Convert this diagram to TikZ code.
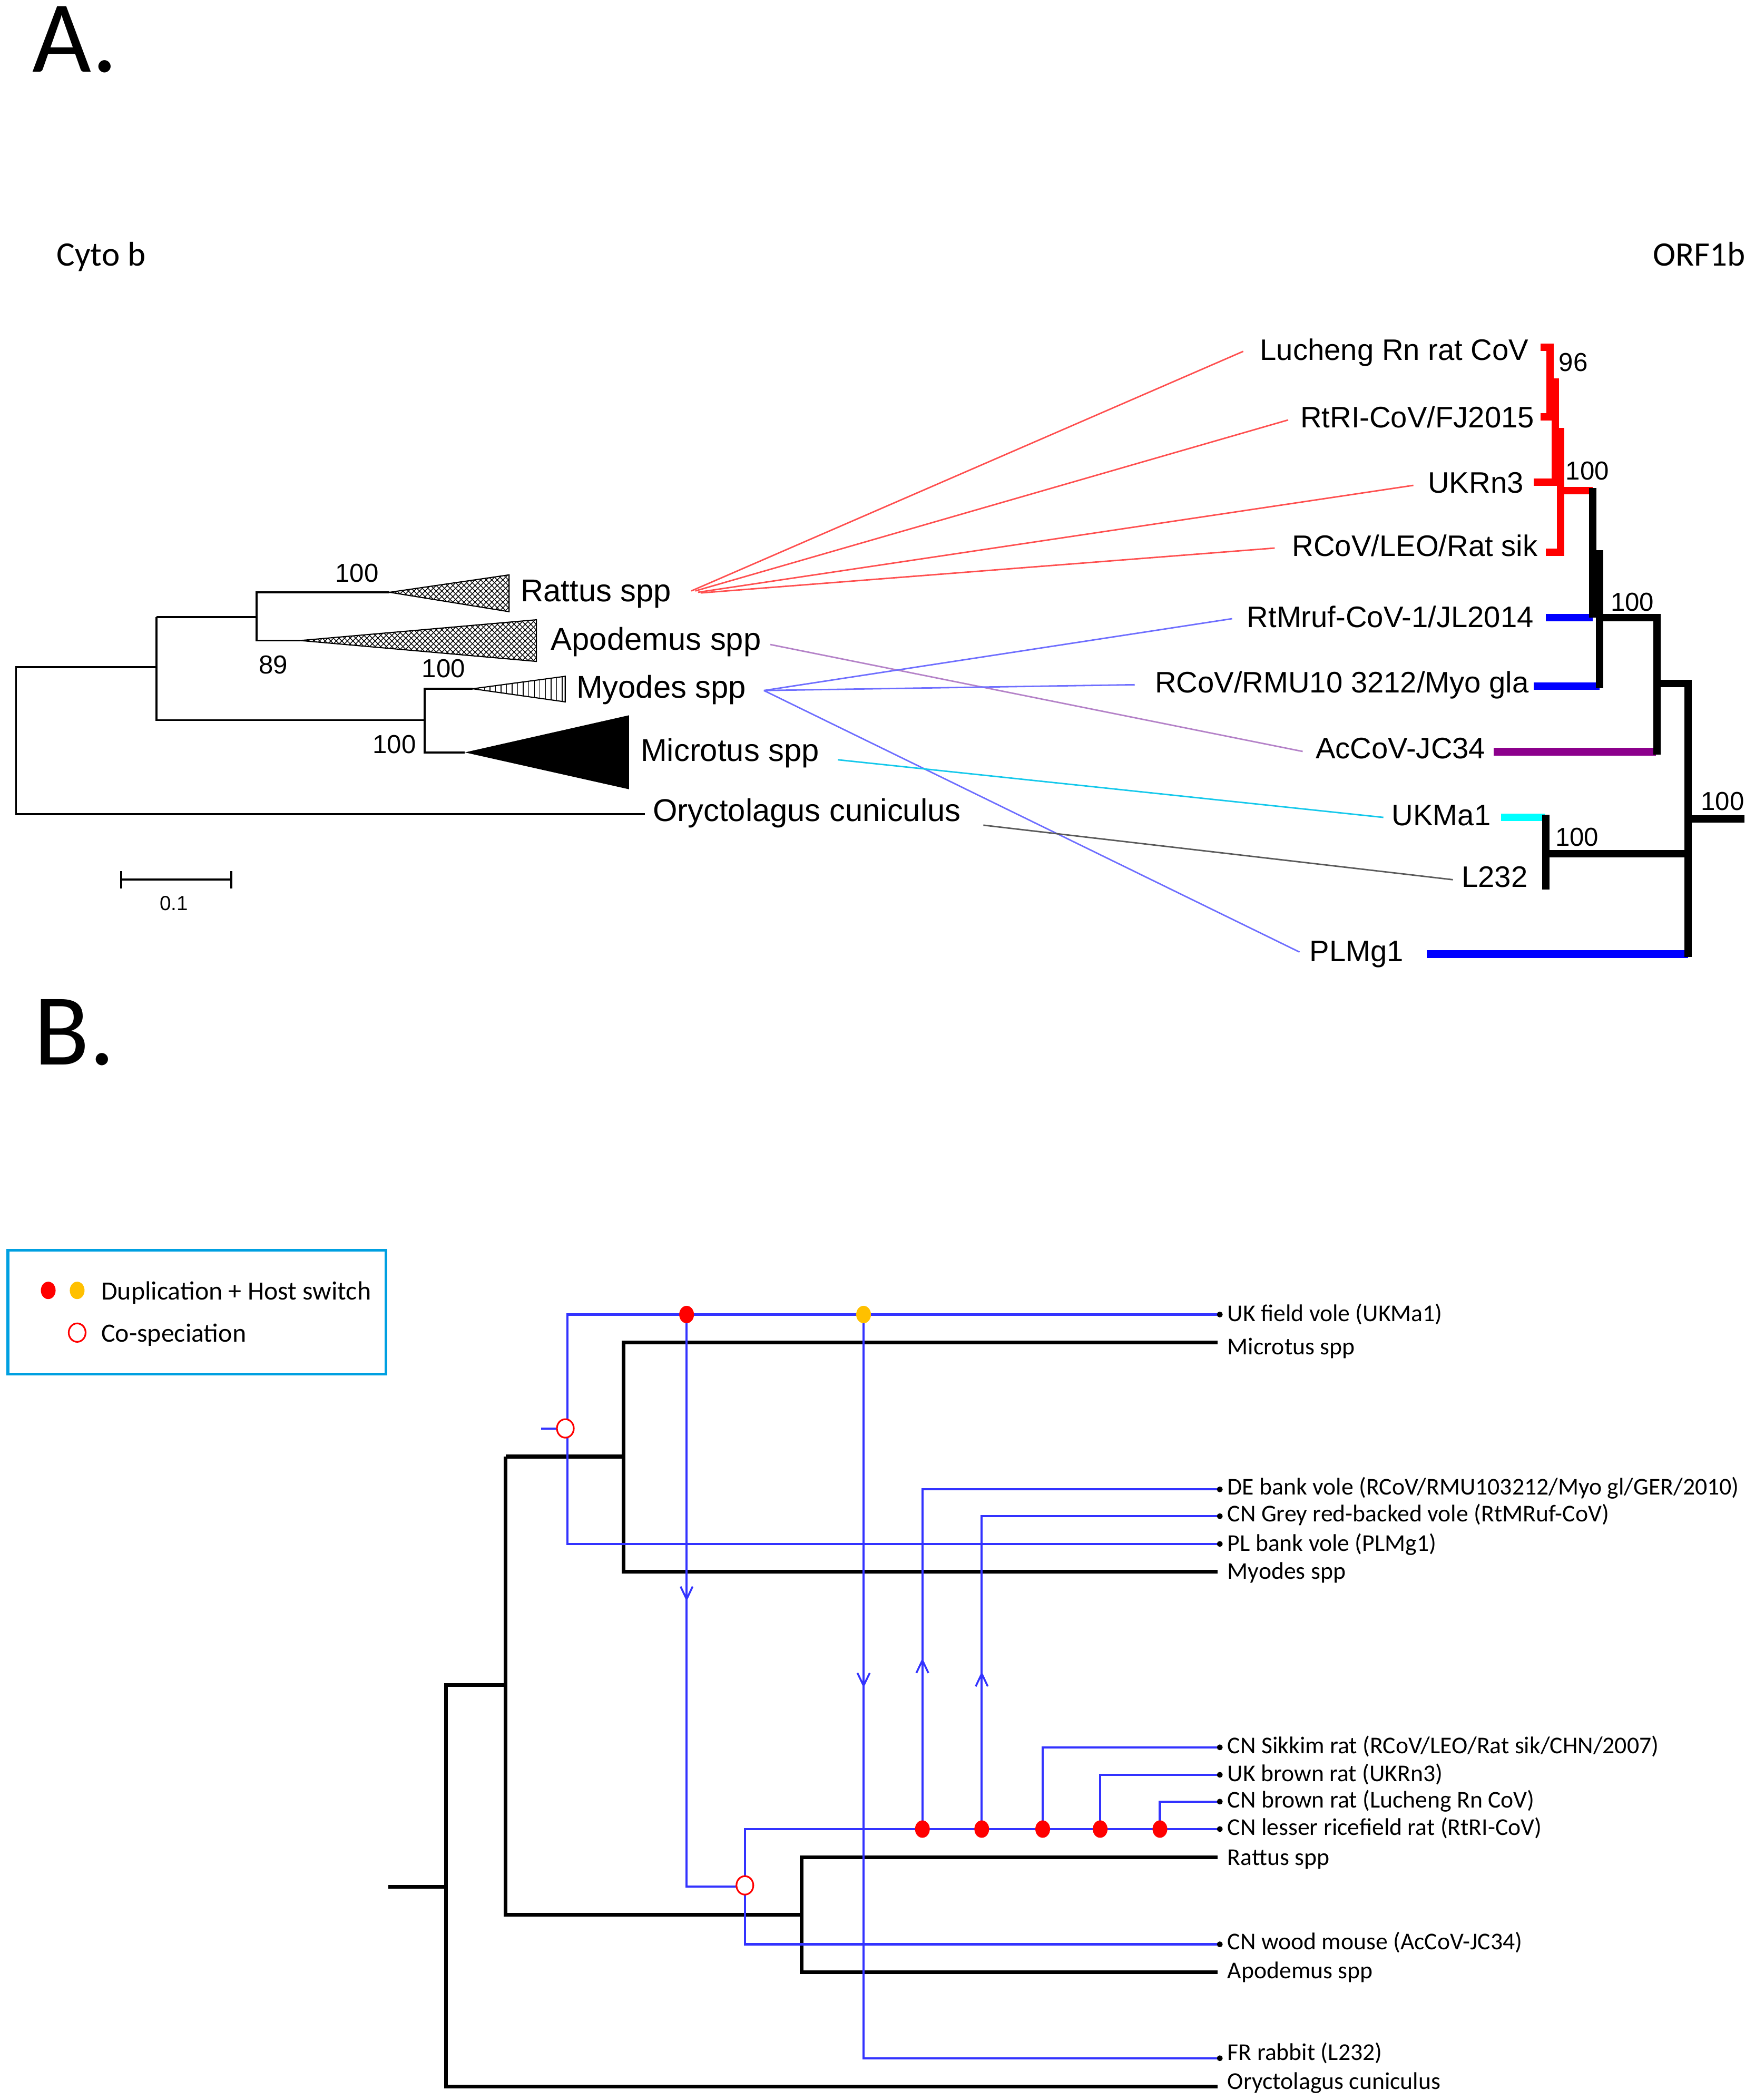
\documentclass[tikz,border=0pt]{standalone}
\usepackage{fontspec}
\setmainfont{Liberation Sans}
\newfontfamily\calfont{Carlito}
\usetikzlibrary{patterns,shapes.geometric}
\definecolor{thinred}{RGB}{255,80,80}
\definecolor{thinpurple}{RGB}{180,130,200}
\definecolor{thinblue}{RGB}{110,110,255}
\definecolor{thincyan}{RGB}{20,200,235}
\definecolor{thingray}{RGB}{90,90,90}
\definecolor{tblue}{RGB}{0,0,255}
\definecolor{tpurple}{RGB}{140,0,140}
\definecolor{tcyan}{RGB}{0,255,255}
\definecolor{tred}{RGB}{255,0,0}
\definecolor{pblue}{RGB}{51,51,255}
\definecolor{dotred}{RGB}{255,0,0}
\definecolor{dotorange}{RGB}{255,192,0}
\definecolor{legendframe}{RGB}{0,160,225}
\begin{document}
\begin{tikzpicture}[x=0.0254275cm, y=-0.0254275cm,
  lab/.style={inner sep=0pt},
  big/.style={lab, font=\calfont\fontsize{55}{58}\selectfont},
  axlab/.style={lab, font=\calfont\fontsize{18.5}{21}\selectfont},
  llab/.style={lab, anchor=base west, font=\fontsize{17}{20}\selectfont},
  rlab/.style={lab, anchor=base east, font=\fontsize{16}{19}\selectfont},
  boot/.style={lab, anchor=base west, font=\fontsize{14}{16}\selectfont},
  blab/.style={lab, anchor=base west, font=\calfont\fontsize{13}{15}\selectfont},
  leglab/.style={lab, anchor=base west, font=\calfont\fontsize{14.2}{16}\selectfont},
  ltree/.style={line width=1.1pt, black},
  otree/.style={line width=4pt, black},
  thin/.style={line width=0.8pt},
  htree/.style={line width=2pt, black},
  pline/.style={line width=1.2pt, pblue},
  dup/.style={ellipse, inner sep=0pt, minimum width=2.8mm, minimum height=3.3mm, draw=none},
  cosp/.style={ellipse, inner sep=0pt, minimum width=3.2mm, minimum height=3.5mm, draw=dotred, line width=0.9pt, fill=white},
  tipdot/.style={circle, inner sep=0pt, minimum size=1.1mm, fill=black},
]
\useasboundingbox (0,0) rectangle (1310,1567.2);

% ---------- Panel letters and axis titles ----------
\node[big, anchor=base west] (A) at (24,53.5) {A.};
\node[big, anchor=base west] (B) at (25,794.5) {B.};
\node[axlab, anchor=base west] (cytob) at (42,198.5) {Cyto b};
\node[axlab, anchor=base east] (orf) at (1303,198.5) {ORF1b};

% ---------- Panel A: Cyto b tree ----------
\draw[ltree] (481.5,607.6) -- (12,607.6) -- (12,498) -- (116.8,498);
\draw[ltree] (116.8,460.5) -- (116.8,537.4) -- (317,537.4);
\draw[ltree] (116.8,460.5) -- (191.6,460.5);
\draw[ltree] (290.8,442) -- (191.6,442) -- (191.6,478) -- (224,478);
\draw[ltree] (352.7,514) -- (317,514) -- (317,561.5) -- (347,561.5);
% collapsed clades
\fill[white] (290.8,442) -- (380,429) -- (380,456.5) -- cycle;
\fill[pattern=north east lines] (290.8,442) -- (380,429) -- (380,456.5) -- cycle;
\fill[pattern=north west lines] (290.8,442) -- (380,429) -- (380,456.5) -- cycle;
\draw[line width=0.6pt] (290.8,442) -- (380,429) -- (380,456.5) -- cycle;
\fill[pattern=crosshatch] (224,478) -- (400.4,462.5) -- (400.4,493.6) -- cycle;
\draw[line width=0.6pt] (224,478) -- (400.4,462.5) -- (400.4,493.6) -- cycle;
\fill[pattern=vertical lines] (352.7,514) -- (421.9,504.7) -- (421.9,523.8) -- cycle;
\draw[line width=0.6pt] (352.7,514) -- (421.9,504.7) -- (421.9,523.8) -- cycle;
\fill[black] (347,561.5) -- (469.5,533.8) -- (469.5,589) -- cycle;
% labels
\node[llab] (rattus) at (388.5,449) {Rattus spp};
\node[llab] (apod) at (411,485) {Apodemus spp};
\node[llab] (myod) at (430,521) {Myodes spp};
\node[llab] (micro) at (478,568) {Microtus spp};
\node[llab] (oryc) at (487,613) {Oryctolagus cuniculus};
\node[boot] (b1) at (250,434.5) {100};
\node[boot] (b2) at (193,502.7) {89};
\node[boot] (b3) at (314.6,505.7) {100};
\node[boot] (b4) at (278,562) {100};
% scale bar
\draw[ltree] (90.6,650) -- (90.6,663) (90.6,656.2) -- (172.6,656.2) (172.6,650) -- (172.6,663);
\node[lab, anchor=base west, font=\fontsize{11}{13}\selectfont] (scl) at (119,679.3) {0.1};

% ---------- Panel A: ORF1b tree ----------
\draw[otree, tred] (1150,259) -- (1157,259) -- (1157,311) -- (1150,311);
\draw[otree, tred] (1157,285) -- (1161,285) -- (1161,360) -- (1145,360);
\draw[otree, tred] (1161,322) -- (1165,322) -- (1165,412) -- (1154,412);
\draw[otree, tred] (1165,366) -- (1189,366);
\draw[otree, tblue] (1154,461) -- (1189,461);
\draw[otree, tblue] (1145,512) -- (1194,512);
\draw[otree, tpurple] (1115,561) -- (1236,561);
\draw[otree, tcyan] (1120.6,610) -- (1153,610);
\draw[otree, tblue] (1065,712) -- (1260,712);
\draw[otree] (1189,364) -- (1189,461);
\draw[otree] (1189,413.5) -- (1194,413.5) -- (1194,513.5);
\draw[otree] (1194,461) -- (1237,461) -- (1237,563);
\draw[otree] (1237,510) -- (1260,510) -- (1260,714);
\draw[otree] (1260,611) -- (1302,611);
\draw[otree] (1260,637) -- (1154,637);
\draw[otree] (1154,608) -- (1154,664);
% labels
\node[rlab] (luch) at (1141.3,268.6) {Lucheng Rn rat CoV};
\node[rlab] (rtri) at (1145.5,319) {RtRI-CoV/FJ2015};
\node[rlab] (ukrn) at (1137.5,368) {UKRn3};
\node[rlab] (leo) at (1148,415) {RCoV/LEO/Rat sik};
\node[rlab] (mruf) at (1145,468) {RtMruf-CoV-1/JL2014};
\node[rlab] (rmu) at (1141.5,517) {RCoV/RMU10 3212/Myo gla};
\node[rlab] (acc) at (1109,566) {AcCoV-JC34};
\node[rlab] (ukma) at (1113,616) {UKMa1};
\node[rlab] (l232) at (1140.5,662) {L232};
\node[rlab] (plmg) at (1048,717.5) {PLMg1};
\node[boot] (o1) at (1163.3,277) {96};
\node[boot] (o2) at (1168.5,358) {100};
\node[boot] (o3) at (1202,456) {100};
\node[boot] (o4) at (1160.7,631.5) {100};
\node[boot] (o5) at (1269.4,604.5) {100};

% ---------- Panel A: tanglegram connectors ----------
\coordinate (cr1) at (516,441);
\coordinate (cr2) at (519,441);
\coordinate (cr3) at (521,442);
\coordinate (cr4) at (523,442.5);
\coordinate (eluch) at (928,262.2);
\coordinate (ertri) at (961.5,313.4);
\coordinate (eukrn) at (1055,362.2);
\coordinate (eleo) at (951.5,409);
\coordinate (cap) at (575,481);
\coordinate (eacc) at (972.4,560.8);
\coordinate (cmy) at (570.2,515.3);
\coordinate (emruf) at (919.7,461.7);
\coordinate (ermu) at (847,511);
\coordinate (eplmg) at (970,710.5);
\coordinate (cmi) at (625.4,567);
\coordinate (eukma) at (1032.6,610);
\coordinate (cor) at (734,615.8);
\coordinate (el232) at (1084.5,656.5);
\draw[thin, thinred] (cr1) -- (eluch);
\draw[thin, thinred] (cr2) -- (ertri);
\draw[thin, thinred] (cr3) -- (eukrn);
\draw[thin, thinred] (cr4) -- (eleo);
\draw[thin, thinpurple] (cap) -- (eacc);
\draw[thin, thinblue] (cmy) -- (emruf);
\draw[thin, thinblue] (cmy) -- (ermu);
\draw[thin, thinblue] (cmy) -- (eplmg);
\draw[thin, thincyan] (cmi) -- (eukma);
\draw[thin, thingray] (cor) -- (el232);

% ---------- Panel B: legend ----------
\draw[legendframe, line width=1.6pt] (6,933) rectangle (288,1025.5);
\node[dup, fill=dotred] (lg1) at (36,963) {};
\node[dup, fill=dotorange] (lg2) at (57.6,963) {};
\node[cosp] (lg3) at (57.6,994.5) {};
\node[leglab] (lgt1) at (75.3,970.1) {Duplication + Host switch};
\node[leglab] (lgt2) at (75.3,1001.5) {Co-speciation};

% ---------- Panel B: host tree ----------
\draw[htree] (290,1408) -- (333,1408);
\draw[htree] (909,1557) -| (333,1257.5) -- (377.5,1257.5);
\draw[htree] (377.5,1087) -- (377.5,1429) -- (598.5,1429);
\draw[htree] (377.5,1087) -- (465.5,1087);
\draw[htree] (909,1002) -| (465.5,1173) -- (909,1173);
\draw[htree] (909,1386) -| (598.5,1472) -- (909,1472);

% ---------- Panel B: parasite tree ----------
\draw[pline] (909,981) -| (423.7,1152.2) -- (909,1152.2);
\draw[pline] (404,1066) -- (416,1066);
\draw[pline] (512.5,981) |- (550,1408);
\draw[pline] (644.6,981) |- (909,1536);
\draw[pline] (909,1365) -| (556,1451) -- (909,1451);
\draw[pline] (688.5,1365) |- (909,1111.5);
\draw[pline] (732.8,1365) |- (909,1131.5);
\draw[pline] (778.3,1365) |- (909,1304);
\draw[pline] (821.2,1365) |- (909,1324.5);
\draw[pline] (865.8,1365) |- (909,1344.5);
% arrow marks
\draw[pline, line width=1pt] (508,1184) -- (512.5,1193.5) -- (517,1184);
\draw[pline, line width=1pt] (640,1248.5) -- (644.6,1258) -- (649.2,1248.5);
\draw[pline, line width=1pt] (684,1248.5) -- (688.5,1239) -- (693,1248.5);
\draw[pline, line width=1pt] (728.3,1258.5) -- (732.8,1249) -- (737.3,1258.5);
% events
\node[cosp] (cs1) at (422,1066) {};
\node[cosp] (cs2) at (556,1407) {};
\node[dup, fill=dotred] (d1) at (512.5,981) {};
\node[dup, fill=dotorange] (d2) at (644.6,981) {};
\node[dup, fill=dotred] (d3) at (688.5,1365) {};
\node[dup, fill=dotred] (d4) at (732.8,1365) {};
\node[dup, fill=dotred] (d5) at (778.3,1365) {};
\node[dup, fill=dotred] (d6) at (821.2,1365) {};
\node[dup, fill=dotred] (d7) at (865.8,1365) {};
% tip dots
\foreach \yy/\nm in {981/t1,1111.5/t2,1131.5/t3,1152.2/t4,1304/t5,1324.5/t6,1344.5/t7,1365/t8,1451/t9,1536/t10}
  \node[tipdot] (\nm) at (910.5,\yy) {};
% labels
\node[blab] (hl1) at (916,986) {UK field vole (UKMa1)};
\node[blab] (hl2) at (916,1011) {Microtus spp};
\node[blab] (hl3) at (916,1115.5) {DE bank vole (RCoV/RMU103212/Myo gl/GER/2010)};
\node[blab] (hl4) at (916,1135.5) {CN Grey red-backed vole (RtMRuf-CoV)};
\node[blab] (hl5) at (916,1157.5) {PL bank vole (PLMg1)};
\node[blab] (hl6) at (916,1178.5) {Myodes spp};
\node[blab] (hl7) at (916,1308.5) {CN Sikkim rat (RCoV/LEO/Rat sik/CHN/2007)};
\node[blab] (hl8) at (916,1329.5) {UK brown rat (UKRn3)};
\node[blab] (hl9) at (916,1349) {CN brown rat (Lucheng Rn CoV)};
\node[blab] (hl10) at (916,1369.5) {CN lesser ricefield rat (RtRI-CoV)};
\node[blab] (hl11) at (916,1392) {Rattus spp};
\node[blab] (hl12) at (916,1455) {CN wood mouse (AcCoV-JC34)};
\node[blab] (hl13) at (916,1476.5) {Apodemus spp};
\node[blab] (hl14) at (916,1537.5) {FR rabbit (L232)};
\node[blab] (hl15) at (916,1559) {Oryctolagus cuniculus};
\end{tikzpicture}
\end{document}
